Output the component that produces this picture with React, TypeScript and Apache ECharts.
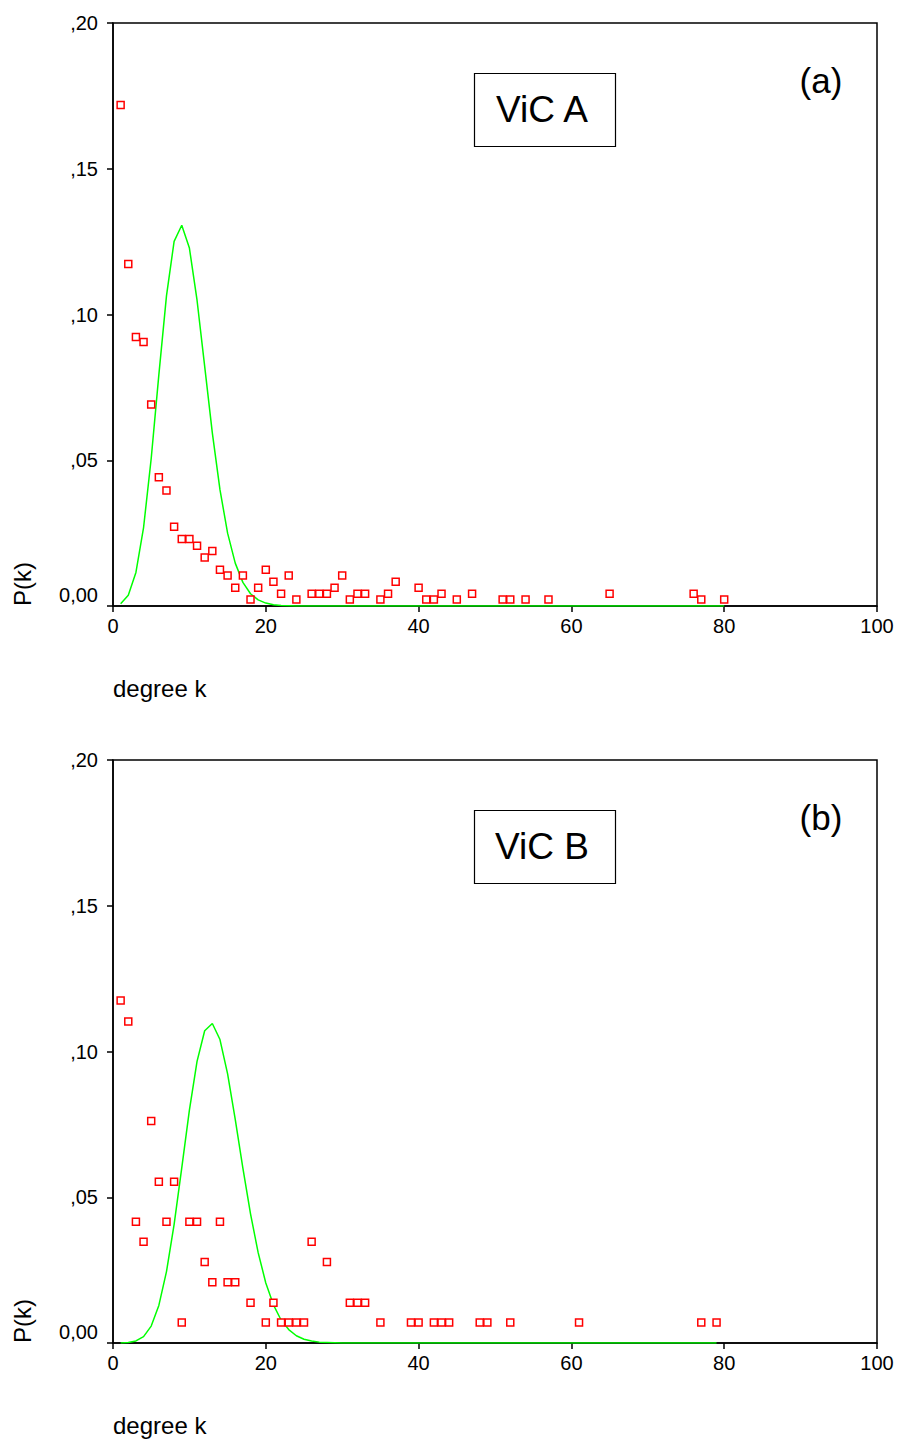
import React, { useEffect, useRef } from "react";
import * as echarts from "echarts";

// Panel (a) – ViC A: observed degree distribution
const kA = [1, 2, 3, 4, 5, 6, 7, 8, 9, 10, 11, 12, 13, 14, 15, 16, 17, 18, 19, 20, 21, 22, 23, 24, 26, 27, 28, 29, 30, 31, 32, 33, 35, 36, 37, 40, 41, 42, 43, 45, 47, 51, 52, 54, 57, 65, 76, 77, 80];
const pA = [0.1719, 0.1173, 0.0923, 0.0906, 0.0691, 0.0442, 0.0396, 0.0272, 0.023, 0.023, 0.0207, 0.0166, 0.0189, 0.0124, 0.0105, 0.0063, 0.0105, 0.0022, 0.0063, 0.0124, 0.0083, 0.0042, 0.0105, 0.0022, 0.0042, 0.0042, 0.0042, 0.0063, 0.0105, 0.0022, 0.0042, 0.0042, 0.0022, 0.0042, 0.0083, 0.0063, 0.0022, 0.0022, 0.0042, 0.0022, 0.0042, 0.0022, 0.0022, 0.0022, 0.0022, 0.0042, 0.0042, 0.0022, 0.0022];
// Panel (a) – fitted curve (green)
const fitKA = [1, 2, 3, 4, 5, 6, 7, 8, 9, 10, 11, 12, 13, 14, 15, 16, 17, 18, 19, 20, 21, 22, 23, 24, 80];
const fitPA = [0.0008, 0.0037, 0.0115, 0.0269, 0.0506, 0.0793, 0.1064, 0.1251, 0.1306, 0.1228, 0.1049, 0.0822, 0.0594, 0.0399, 0.025, 0.0147, 0.0081, 0.0042, 0.0021, 0.001, 0.0004, 0.0002, 0.0001, 0.0, 0.0];

// Panel (b) – ViC B: observed degree distribution
const kB = [1, 2, 3, 4, 5, 6, 7, 8, 9, 10, 11, 12, 13, 14, 15, 16, 18, 20, 21, 22, 23, 24, 25, 26, 28, 31, 32, 33, 35, 39, 40, 42, 43, 44, 48, 49, 52, 61, 77, 79];
const pB = [0.1175, 0.1103, 0.0416, 0.0347, 0.0762, 0.0553, 0.0416, 0.0553, 0.007, 0.0416, 0.0416, 0.0278, 0.0208, 0.0416, 0.0208, 0.0208, 0.0138, 0.007, 0.0138, 0.007, 0.007, 0.007, 0.007, 0.0347, 0.0278, 0.0138, 0.0138, 0.0138, 0.007, 0.007, 0.007, 0.007, 0.007, 0.007, 0.007, 0.007, 0.007, 0.007, 0.007, 0.007];
// Panel (b) – fitted curve (green)
const fitKB = [1, 2, 3, 4, 5, 6, 7, 8, 9, 10, 11, 12, 13, 14, 15, 16, 17, 18, 19, 20, 21, 22, 23, 24, 25, 26, 27, 28, 29, 30, 79];
const fitPB = [0.00002, 0.00015, 0.0007, 0.0022, 0.0058, 0.0129, 0.0245, 0.0407, 0.0601, 0.0799, 0.0966, 0.1071, 0.1096, 0.1041, 0.0923, 0.0767, 0.06, 0.0443, 0.031, 0.0206, 0.0131, 0.0079, 0.0046, 0.0025, 0.0013, 0.0007, 0.0003, 0.0002, 0.0001, 0.0, 0.0];

const xTicks = [0, 20, 40, 60, 80, 100];
const yTickLabels = ["0,00", ",05", ",10", ",15", ",20"];
const panelNames = ["ViC A", "ViC B"];
const panelTags = ["(a)", "(b)"];

const FONT = "'Liberation Sans', Arial, Helvetica, sans-serif";

export default function App() {
  const ref = useRef<HTMLDivElement>(null);
  useEffect(() => {
    const chart = echarts.init(ref.current!, null, { renderer: "svg" });
    const tops = [23, 760];
    const grids = tops.map((t) => ({
      left: 113,
      right: 20,
      top: t,
      height: 583,
      show: true,
      borderColor: "#000",
      borderWidth: 1.5,
      backgroundColor: "transparent",
    }));
    const xAxes = tops.map((_, i) => ({
      type: "value",
      gridIndex: i,
      min: xTicks[0],
      max: xTicks[xTicks.length - 1],
      interval: xTicks[1] - xTicks[0],
      axisLine: { show: true, onZero: false, lineStyle: { color: "#000", width: 1.5 } },
      axisTick: { show: true, length: 6, lineStyle: { color: "#000", width: 1.5 } },
      axisLabel: { color: "#000", fontSize: 20, fontFamily: FONT, margin: 10 },
      splitLine: { show: false },
    }));
    const yAxes = tops.map((_, i) => ({
      type: "value",
      gridIndex: i,
      min: 0,
      max: 0.2,
      interval: 0.05,
      axisLine: { show: true, onZero: false, lineStyle: { color: "#000", width: 1.5 } },
      axisTick: { show: true, length: 6, lineStyle: { color: "#000", width: 1.5 } },
      axisLabel: {
        color: "#000",
        fontSize: 20,
        fontFamily: FONT,
        margin: 15,
        formatter: (v: number) => {
          const idx = Math.round(v / 0.05);
          return idx === 0 ? "{z|" + yTickLabels[0] + "}" : yTickLabels[idx];
        },
        rich: {
          z: { fontSize: 20, fontFamily: FONT, color: "#000", padding: [0, 0, 22, 0] },
        },
      },
      splitLine: { show: false },
    }));

    const fits = [
      fitKA.map((k, j) => [k, fitPA[j]]),
      fitKB.map((k, j) => [k, fitPB[j]]),
    ];
    const obs = [
      kA.map((k, j) => [k, pA[j]]),
      kB.map((k, j) => [k, pB[j]]),
    ];
    const series: any[] = [];
    [0, 1].forEach((i) => {
      series.push({
        type: "line",
        xAxisIndex: i,
        yAxisIndex: i,
        data: fits[i],
        showSymbol: false,
        symbol: "none",
        lineStyle: { color: "#00ff00", width: 1.5 },
        z: 2,
      });
      series.push({
        type: "scatter",
        xAxisIndex: i,
        yAxisIndex: i,
        data: obs[i],
        symbol: "rect",
        symbolSize: 7,
        itemStyle: { color: "#fff", borderColor: "#ff0000", borderWidth: 1.5, opacity: 1 },
        z: 3,
      });
    });

    const graphic: any[] = [];
    [0, 1].forEach((i) => {
      const off = tops[i] - tops[0];
      graphic.push(
        {
          type: "text",
          x: 22,
          y: 584 + off,
          rotation: Math.PI / 2,
          style: {
            text: "P(k)",
            font: "24px " + FONT,
            fill: "#000",
            align: "center",
            verticalAlign: "middle",
            textAlign: "center",
            textVerticalAlign: "middle",
          },
        },
        {
          type: "text",
          x: 113,
          y: 688 + off,
          style: {
            text: "degree k",
            font: "24px " + FONT,
            fill: "#000",
            align: "left",
            verticalAlign: "middle",
            textAlign: "left",
            textVerticalAlign: "middle",
          },
        },
        {
          type: "rect",
          shape: { x: 474.5, y: 73.5 + off, width: 141, height: 73 },
          style: { fill: "#fff", stroke: "#000", lineWidth: 1.2 },
          z: 10,
        },
        {
          type: "text",
          x: 542,
          y: 109 + off,
          z: 11,
          style: {
            text: panelNames[i],
            font: "37px " + FONT,
            fill: "#000",
            align: "center",
            verticalAlign: "middle",
            textAlign: "center",
            textVerticalAlign: "middle",
          },
        },
        {
          type: "text",
          x: 821,
          y: 80 + off,
          z: 11,
          style: {
            text: panelTags[i],
            font: "35px " + FONT,
            fill: "#000",
            align: "center",
            verticalAlign: "middle",
            textAlign: "center",
            textVerticalAlign: "middle",
          },
        }
      );
    });

    chart.setOption({
      animation: false,
      backgroundColor: "#fff",
      grid: grids,
      xAxis: xAxes,
      yAxis: yAxes,
      series,
      graphic,
    });
    return () => chart.dispose();
  }, []);
  return (
    <div
      ref={ref}
      style={{ position: "absolute", left: 0, top: 0, width: 897, height: 1439 }}
    />
  );
}
